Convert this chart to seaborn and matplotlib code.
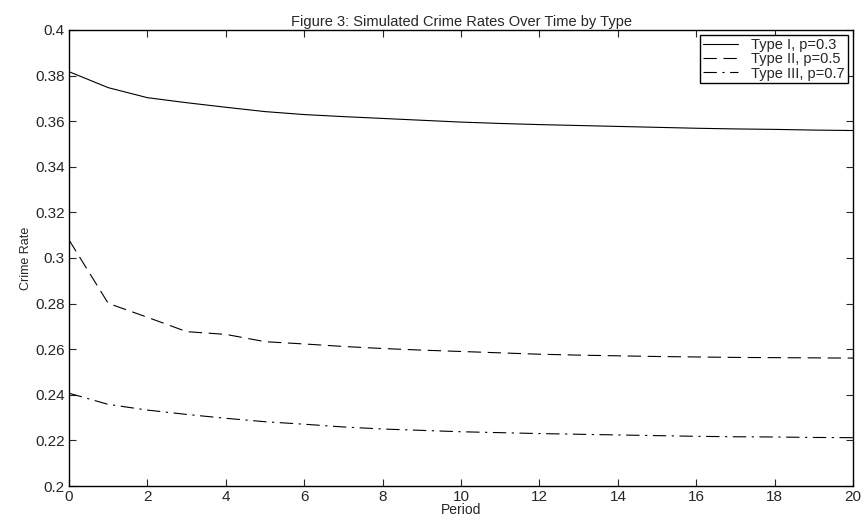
import numpy as np
import pandas as pd
import matplotlib
matplotlib.use('Agg')
import matplotlib.pyplot as plt
import seaborn as sns

# values
periods = list(range(21))
type1 = [0.3817, 0.3747, 0.3703, 0.3681, 0.3661, 0.3642, 0.3629, 0.3620, 0.3612, 0.3604,
         0.3596, 0.3590, 0.3585, 0.3581, 0.3577, 0.3573, 0.3569, 0.3566, 0.3564, 0.3561, 0.3559]
type2 = [0.3079, 0.2801, 0.2740, 0.2677, 0.2665, 0.2633, 0.2623, 0.2612, 0.2603, 0.2596,
         0.2590, 0.2584, 0.2578, 0.2574, 0.2571, 0.2568, 0.2566, 0.2564, 0.2563, 0.2562, 0.2561]
type3 = [0.2407, 0.2358, 0.2333, 0.2314, 0.2297, 0.2282, 0.2271, 0.2259, 0.2250, 0.2244,
         0.2238, 0.2234, 0.2230, 0.2227, 0.2224, 0.2221, 0.2218, 0.2216, 0.2215, 0.2213, 0.2212]
labels = ['Type I, p=0.3', 'Type II, p=0.5', 'Type III, p=0.7']

df = pd.DataFrame({
    'Period': periods * 3,
    'Crime Rate': type1 + type2 + type3,
    'Type': [labels[0]] * 21 + [labels[1]] * 21 + [labels[2]] * 21,
})

sns.set_style('ticks')
plt.rcParams['font.family'] = ['Liberation Sans', 'DejaVu Sans']

fig = plt.figure(figsize=(8.64, 5.23), dpi=100)
ax = fig.add_axes([0.0799, 0.0707, 0.9075, 0.872])

sns.lineplot(data=df, x='Period', y='Crime Rate', hue='Type', style='Type',
             palette=['black'] * 3,
             dashes={labels[0]: '', labels[1]: (12, 6), labels[2]: (12, 5, 2, 5)},
             linewidth=0.8, ax=ax)

ax.set_xlim(0, 20)
ax.set_ylim(0.2, 0.4)
ax.set_xticks(np.arange(0, 21, 2))
ax.set_yticks(np.arange(0.2, 0.401, 0.02))
ax.set_yticklabels(['0.2', '0.22', '0.24', '0.26', '0.28', '0.3', '0.32', '0.34', '0.36', '0.38', '0.4'])
ax.tick_params(direction='in', length=5, width=0.8, top=True, right=True, labelsize=11, pad=3)
for s in ax.spines.values():
    s.set_visible(True)
    s.set_linewidth(1.0)
    s.set_color('black')

ax.set_title('Figure 3: Simulated Crime Rates Over Time by Type', fontsize=10.5, pad=3)
ax.set_xlabel('Period', fontsize=10, labelpad=-1)
ax.set_ylabel('Crime Rate', fontsize=9, labelpad=2)

leg = ax.legend(loc='upper right', fontsize=10.5, frameon=True, fancybox=False,
                edgecolor='black', framealpha=1, handlelength=2.4, borderpad=0.2,
                labelspacing=0.02, handletextpad=0.9, borderaxespad=0.35)
leg.get_frame().set_linewidth(1.0)

plt.savefig('out.png', dpi=100)
